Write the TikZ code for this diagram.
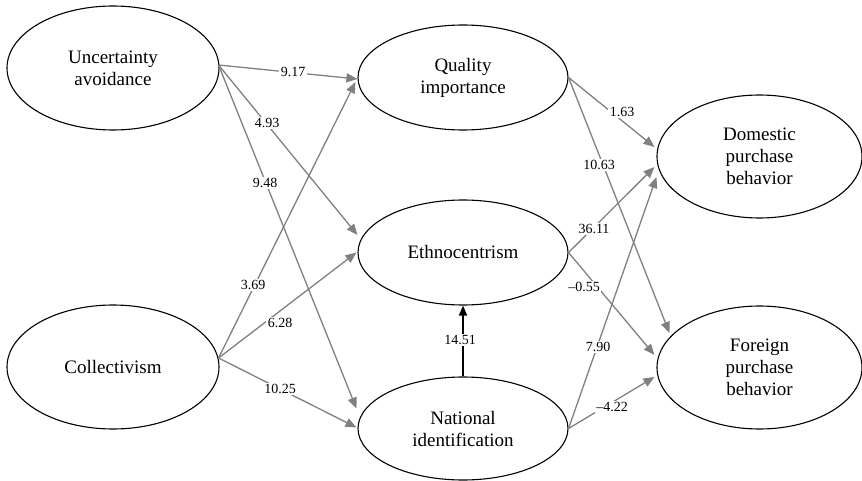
\documentclass[tikz,border=0pt]{standalone}
\usepackage{fontspec}
\setmainfont{Liberation Serif}
\usetikzlibrary{shapes.geometric,arrows.meta,calc}
\begin{document}
\begin{tikzpicture}[x=1pt,y=1pt,
  latent/.style={draw=black, line width=1.1pt, ellipse, inner sep=0pt,
    align=center, font=\fontsize{19}{22}\selectfont},
  path/.style={draw=gray, line width=1.3pt, -{Triangle[length=11pt,width=9pt]}},
  blackpath/.style={draw=black, line width=1.6pt, -{Triangle[length=10pt,width=8pt]}},
  lbl/.style={fill=white, inner sep=1.5pt, font=\fontsize{14}{16}\selectfont}]
\useasboundingbox (0,0) rectangle (862,-481);
% latent variables
\node[latent, minimum width=212pt, minimum height=124pt] (ua) at (113,-68) {Uncertainty\\avoidance};
\node[latent, minimum width=212pt, minimum height=124pt] (col) at (113,-367) {Collectivism};
\node[latent, minimum width=210pt, minimum height=105pt] (qi) at (463,-77.5) {Quality\\importance};
\node[latent, minimum width=210pt, minimum height=105pt] (eth) at (463,-252.5) {Ethnocentrism};
\node[latent, minimum width=210pt, minimum height=103pt] (ni) at (463,-428.5) {National\\identification};
\node[latent, minimum width=205pt, minimum height=123pt] (dom) at (759.5,-156.5) {Domestic\\purchase\\behavior};
\node[latent, minimum width=205pt, minimum height=123pt] (for) at (759.5,-367.5) {Foreign\\purchase\\behavior};
% connector end points
\coordinate (uaOut) at ($(ua.east)+(-1,3)$);
\coordinate (colOut) at ($(col.east)+(-1,9)$);
\coordinate (qiIn1) at ($(qi.west)+(0,-1.5)$);
\coordinate (qiIn2) at ($(qi.west)+(-2,-4.5)$);
\coordinate (ethIn1) at ($(eth.west)+(0,17.5)$);
\coordinate (ethIn2) at ($(eth.west)+(-1,0)$);
\coordinate (niIn1) at ($(ni.west)+(-1,20)$);
\coordinate (niIn2) at ($(ni.west)+(-1,1)$);
\coordinate (domIn1) at ($(dom.west)+(-2,9.5)$);
\coordinate (domIn2) at ($(dom.west)+(-2,-10.5)$);
\coordinate (domIn3) at ($(dom.west)+(0,-20.5)$);
\coordinate (forIn1) at ($(for.west)+(13,34.5)$);
\coordinate (forIn2) at ($(for.west)+(-2,12.5)$);
\coordinate (forIn3) at ($(for.west)+(-2,-9.5)$);
% paths
\draw[path] (uaOut) -- (qiIn1);
\draw[path] (uaOut) -- (ethIn1);
\draw[path] (uaOut) -- (niIn1);
\draw[path] (colOut) -- (qiIn2);
\draw[path] (colOut) -- (ethIn2);
\draw[path] (colOut) -- (niIn2);
\draw[path] (qi.east) -- (domIn1);
\draw[path] (qi.east) -- (forIn1);
\draw[path] (eth.east) -- (domIn2);
\draw[path] (eth.east) -- (forIn2);
\draw[path] (ni.east) -- (domIn3);
\draw[path] (ni.east) -- (forIn3);
\draw[blackpath] (ni.north) -- (eth.south);
% coefficients
\node[lbl] (c1) at (293,-72) {9.17};
\node[lbl] (c2) at (267,-123) {4.93};
\node[lbl] (c3) at (265,-183) {9.48};
\node[lbl] (c4) at (253,-285) {3.69};
\node[lbl] (c5) at (280,-323) {6.28};
\node[lbl] (c6) at (280,-389) {10.25};
\node[lbl] (c7) at (460,-340) {14.51};
\node[lbl] (c8) at (622,-112) {1.63};
\node[lbl] (c9) at (599,-165) {10.63};
\node[lbl] (c10) at (594,-229) {36.11};
\node[lbl] (c11) at (584,-287) {\textendash0.55};
\node[lbl] (c12) at (598,-347) {7.90};
\node[lbl] (c13) at (612,-407) {\textendash4.22};
\end{tikzpicture}
\end{document}
